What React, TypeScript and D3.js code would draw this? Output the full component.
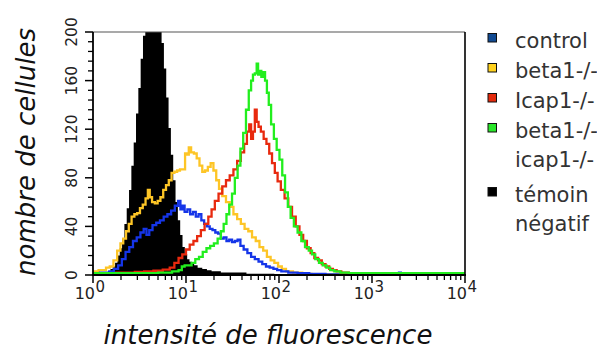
import React from "react";
import * as d3 from "d3";

// ---------- data (log10 intensity, cell count) ----------
const temoinData: [number, number][] = [
  [0, 0], [0.05, 0], [0.1, 1], [0.125, 1], [0.15, 2], [0.175, 3], [0.2, 5], [0.225, 7],
  [0.25, 10], [0.275, 16], [0.3, 22], [0.325, 30], [0.35, 42], [0.375, 55], [0.4, 70],
  [0.425, 90], [0.45, 109], [0.475, 133], [0.5, 154], [0.525, 178], [0.55, 197],
  [0.575, 216], [0.6, 229], [0.625, 237], [0.65, 240], [0.675, 236], [0.7, 227],
  [0.725, 212], [0.75, 191], [0.775, 170], [0.8, 146], [0.825, 121], [0.85, 99],
  [0.875, 78], [0.9, 60], [0.925, 45], [0.95, 33], [0.975, 23], [1.0, 17], [1.025, 13],
  [1.05, 11], [1.075, 9], [1.1, 8], [1.15, 6], [1.2, 5], [1.25, 4], [1.3, 3], [1.35, 3],
  [1.4, 2], [1.5, 2], [1.6, 2], [1.7, 1], [1.8, 1], [1.9, 1], [2.0, 0], [4, 0],
];

const beta1Data: [number, number][] = [
  [0, 3], [0.04, 3], [0.08, 4], [0.12, 4], [0.16, 6], [0.2, 7], [0.24, 12], [0.28, 20],
  [0.31, 26], [0.34, 30], [0.37, 36], [0.4, 42], [0.43, 48], [0.46, 50], [0.49, 51],
  [0.52, 55], [0.55, 58], [0.58, 63], [0.6, 70], [0.62, 64], [0.65, 60], [0.68, 59],
  [0.71, 61], [0.74, 64], [0.77, 70], [0.8, 74], [0.83, 78], [0.86, 84], [0.89, 85],
  [0.92, 86], [0.95, 87], [0.98, 87], [1.0, 100], [1.02, 99], [1.04, 105], [1.07, 101],
  [1.1, 100], [1.13, 96], [1.16, 90], [1.19, 85], [1.22, 86], [1.25, 89], [1.28, 92],
  [1.31, 86], [1.34, 78], [1.37, 71], [1.41, 65], [1.45, 60], [1.49, 56], [1.53, 50],
  [1.57, 46], [1.61, 42], [1.65, 38], [1.69, 36], [1.73, 31], [1.77, 28], [1.81, 23],
  [1.85, 20], [1.89, 15], [1.93, 12], [1.97, 10], [2.01, 7], [2.05, 5], [2.1, 3],
  [2.2, 2], [2.3, 1], [2.4, 0.5], [4, 0.5],
];

const controlData: [number, number][] = [
  [0, 1], [0.05, 1.5], [0.1, 2], [0.15, 2], [0.2, 3], [0.25, 5], [0.29, 8], [0.33, 13],
  [0.37, 19], [0.41, 23], [0.45, 28], [0.49, 31], [0.53, 35], [0.56, 38], [0.59, 33],
  [0.62, 37], [0.66, 41], [0.7, 43], [0.74, 45], [0.78, 48], [0.82, 50], [0.86, 53],
  [0.9, 57], [0.93, 61], [0.95, 54], [0.97, 57], [1.0, 52], [1.03, 54], [1.06, 50],
  [1.09, 52], [1.12, 48], [1.15, 50], [1.18, 45], [1.21, 42], [1.24, 40], [1.27, 38],
  [1.3, 37], [1.33, 35], [1.36, 34], [1.39, 30], [1.42, 31], [1.45, 28], [1.48, 29],
  [1.51, 27], [1.54, 28], [1.57, 29], [1.6, 24], [1.64, 21], [1.68, 18], [1.72, 15],
  [1.76, 13], [1.8, 11], [1.84, 9], [1.88, 7], [1.92, 6], [1.96, 5], [2.0, 4], [2.05, 3],
  [2.15, 2], [2.25, 1.5], [2.4, 1], [2.6, 0.5], [3.28, 0.5], [3.3, 2], [3.32, 0.5], [4, 0.5],
];

const icap1Data: [number, number][] = [
  [0, 1.5], [0.1, 1.5], [0.2, 1.5], [0.3, 2], [0.4, 2], [0.5, 2.5], [0.6, 3], [0.7, 3.5],
  [0.8, 4.5], [0.85, 6], [0.9, 10], [0.94, 14], [0.98, 17], [1.02, 21], [1.06, 25],
  [1.1, 28], [1.14, 32], [1.18, 37], [1.22, 42], [1.26, 48], [1.29, 54], [1.33, 61],
  [1.37, 67], [1.41, 73], [1.45, 78], [1.49, 82], [1.53, 87], [1.57, 94], [1.61, 101],
  [1.64, 108], [1.67, 118], [1.69, 124], [1.71, 112], [1.73, 118], [1.75, 136], [1.77, 126],
  [1.79, 122], [1.82, 118], [1.85, 112], [1.88, 108], [1.91, 100], [1.94, 92], [1.97, 84],
  [2.0, 77], [2.04, 70], [2.08, 63], [2.12, 56], [2.16, 48], [2.2, 40], [2.24, 33],
  [2.28, 28], [2.32, 22], [2.36, 18], [2.4, 14], [2.44, 12], [2.48, 9], [2.52, 7],
  [2.56, 5], [2.6, 4], [2.64, 3], [2.7, 2], [2.8, 1], [2.9, 0.5], [4, 0.5],
];

const doubleData: [number, number][] = [
  [0, 1.5], [0.2, 1.5], [0.4, 1.5], [0.6, 1.5], [0.8, 2], [0.9, 3], [0.94, 4], [0.97, 7],
  [1.0, 8], [1.04, 8], [1.08, 10], [1.12, 13], [1.16, 15], [1.2, 19], [1.24, 22],
  [1.28, 24], [1.32, 26], [1.36, 30], [1.39, 36], [1.42, 42], [1.45, 50], [1.48, 58],
  [1.51, 67], [1.54, 80], [1.57, 90], [1.6, 104], [1.63, 117], [1.66, 136], [1.69, 152],
  [1.71, 160], [1.73, 165], [1.75, 166], [1.77, 174], [1.78, 165], [1.8, 168], [1.82, 163],
  [1.84, 167], [1.86, 160], [1.88, 150], [1.9, 140], [1.93, 124], [1.96, 112], [1.99, 103],
  [2.02, 95], [2.05, 82], [2.08, 68], [2.11, 56], [2.14, 47], [2.18, 40], [2.22, 35],
  [2.26, 28], [2.3, 23], [2.34, 20], [2.37, 17], [2.41, 13], [2.45, 10], [2.49, 8],
  [2.53, 6], [2.57, 4], [2.62, 3], [2.7, 2], [2.8, 1.5], [4, 1.5],
];

const yTicksMajor = [0, 40, 80, 120, 160, 200];
const xDecades = [0, 1, 2, 3, 4];

const legendLabels: string[][] = [
  ["control"],
  ["beta1-/-"],
  ["Icap1-/-"],
  ["beta1-/-", "icap1-/-"],
  ["témoin", "négatif"],
];
const legendColors = ["#114a92", "#ffd21e", "#e32a0c", "#2ae62a", "#000000"];

const xTitle = "intensité de fluorescence";
const yTitle = "nombre de cellules";

// ---------- layout ----------
const W = 597;
const H = 349;
const L = 93, R = 465, T = 32, B = 275;

export default function App() {
  const x = d3.scaleLog().domain([1, 10000]).range([L, R]);
  const y = d3.scaleLinear().domain([0, 200]).range([B, T]);

  const line = d3
    .line<[number, number]>()
    .x((d) => x(Math.pow(10, d[0])))
    .y((d) => y(d[1]))
    .curve(d3.curveStep);

  const area = d3
    .area<[number, number]>()
    .x((d) => x(Math.pow(10, d[0])))
    .y0(y(0))
    .y1((d) => y(d[1]))
    .curve(d3.curveStep);

  const yMinor = d3.range(0, 201, 8).filter((v) => v % 40 !== 0);
  const xMinor: number[] = [];
  for (let dcd = 0; dcd < 4; dcd++) for (let k = 2; k <= 9; k++) xMinor.push(k * Math.pow(10, dcd));

  const lines: { data: [number, number][]; color: string }[] = [
    { data: beta1Data, color: "#fdc526" },
    { data: controlData, color: "#1535e8" },
    { data: icap1Data, color: "#e8290e" },
    { data: doubleData, color: "#22ee1e" },
  ];

  const legendY = [33, 63, 93, 123, 187];
  const font = "'DejaVu Sans', Verdana, sans-serif";

  return (
    <svg
      width={W}
      height={H}
      style={{ position: "absolute", left: 0, top: 0, background: "#fff" }}
      fontFamily={font}
    >
      <defs>
        <clipPath id="plotclip">
          <rect x={L} y={T} width={R - L} height={B - T} />
        </clipPath>
      </defs>
      <rect x={0} y={0} width={W} height={H} fill="#fff" />

      <g clipPath="url(#plotclip)">
        <path d={area(temoinData) ?? ""} fill="#000" />
        {lines.map((s, i) => (
          <path
            key={i}
            d={line(s.data) ?? ""}
            fill="none"
            stroke={s.color}
            strokeWidth={2.3}
            strokeLinejoin="miter"
          />
        ))}
      </g>

      {/* frame */}
      <line x1={L} x2={R} y1={T} y2={T} stroke="#555" strokeWidth={1.2} />
      <line x1={R} x2={R} y1={T} y2={B} stroke="#000" strokeWidth={1.6} />
      <line x1={L} x2={L} y1={T} y2={B + 1} stroke="#000" strokeWidth={1.8} />
      <line x1={L - 1} x2={R + 1} y1={B} y2={B} stroke="#000" strokeWidth={1.8} />

      {/* y ticks */}
      {yTicksMajor.map((v) => (
        <g key={"ym" + v}>
          <line x1={L - 8} x2={L} y1={y(v)} y2={y(v)} stroke="#000" strokeWidth={1.5} />
          <text
            transform={`translate(77,${y(v)}) rotate(-90)`}
            textAnchor="middle"
            fontSize={15.5}
            fill="#222"
          >
            {v}
          </text>
        </g>
      ))}
      {yMinor.map((v) => (
        <line key={"yn" + v} x1={L - 5} x2={L} y1={y(v)} y2={y(v)} stroke="#000" strokeWidth={1.3} />
      ))}

      {/* x ticks */}
      {xDecades.map((e) => {
        const px = x(Math.pow(10, e));
        return (
          <g key={"xd" + e}>
            <line x1={px} x2={px} y1={B} y2={B + 8} stroke="#000" strokeWidth={1.5} />
            <text x={px + 2} y={298.5} textAnchor="end" fontSize={16} fill="#222">
              10
            </text>
            <text x={px + 2.5} y={292} fontSize={15} fill="#222">
              {e}
            </text>
          </g>
        );
      })}
      {xMinor.map((v) => (
        <line key={"xn" + v} x1={x(v)} x2={x(v)} y1={B} y2={B + 5} stroke="#000" strokeWidth={1.3} />
      ))}

      {/* axis titles */}
      <text x={268} y={344} textAnchor="middle" fontSize={26} fontStyle="italic" fill="#111">
        {xTitle}
      </text>
      <text
        transform={`translate(35,152) rotate(-90)`}
        textAnchor="middle"
        fontSize={26}
        fontStyle="italic"
        fill="#111"
      >
        {yTitle}
      </text>

      {/* legend */}
      {legendLabels.map((lab, i) => (
        <g key={"lg" + i}>
          <rect
            x={488}
            y={legendY[i] + 0.5}
            width={8.5}
            height={8.5}
            fill={legendColors[i]}
            stroke="#111"
            strokeWidth={1}
          />
          {lab.map((t, j) => (
            <text key={j} x={515} y={legendY[i] + 15 + j * 28.5} fontSize={21} fill="#333">
              {t}
            </text>
          ))}
        </g>
      ))}
    </svg>
  );
}
